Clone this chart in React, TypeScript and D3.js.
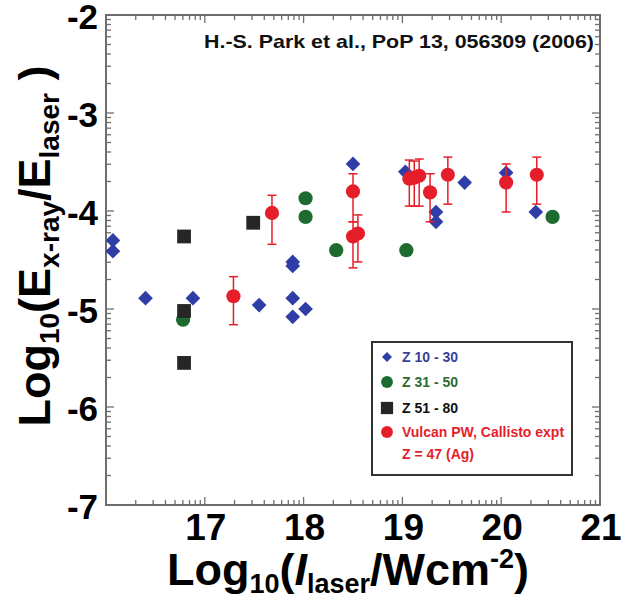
import React from "react";
import * as d3 from "d3";

// Z 10 - 30 (blue diamonds)
const lowZX = [16.07, 16.07, 16.40, 16.88, 17.55, 17.89, 17.89, 17.89, 17.89, 18.02, 18.50, 19.03, 19.34, 19.34, 19.63, 20.05, 20.35];
const lowZY = [-4.30, -4.41, -4.89, -4.89, -4.96, -4.52, -4.56, -4.89, -5.08, -5.00, -3.52, -3.60, -4.01, -4.11, -3.71, -3.61, -4.01];

// Z 31 - 50 (green circles)
const midZX = [16.78, 18.02, 18.02, 18.33, 19.04, 20.52];
const midZY = [-5.11, -3.87, -4.06, -4.40, -4.40, -4.06];

// Z 51 - 80 (black squares)
const highZX = [16.79, 16.79, 16.79, 17.49];
const highZY = [-4.26, -5.02, -5.55, -4.12];

// Vulcan PW, Callisto expt, Z = 47 (Ag), with error bars
const vulcanX = [17.29, 17.68, 18.50, 18.50, 18.55, 19.07, 19.12, 19.17, 19.28, 19.46, 20.05, 20.36];
const vulcanY = [-4.87, -4.02, -3.80, -4.26, -4.23, -3.67, -3.66, -3.64, -3.81, -3.63, -3.71, -3.63];
const vulcanHi = [-4.67, -3.84, -3.62, -4.11, -4.04, -3.48, -3.49, -3.47, -3.62, -3.45, -3.52, -3.45];
const vulcanLo = [-5.16, -4.34, -4.11, -4.58, -4.52, -3.95, -3.95, -3.95, -4.11, -3.93, -4.01, -3.93];

const xTicks = [17, 18, 19, 20, 21];
const yTicks = [-2, -3, -4, -5, -6, -7];

const BLUE = "#2f3da6";
const GREEN = "#1e6b30";
const BLACK = "#262626";
const RED = "#e61e2a";
const AXIS = "#6e6e6e";
const FONT = "'Liberation Sans', Arial, Helvetica, sans-serif";

const W = 621;
const H = 596;
const left = 106;
const right = 600;
const top = 15;
const bottom = 505;

export default function App() {
  const x = d3.scaleLinear().domain([16, 21]).range([left, right]);
  const y = d3.scaleLinear().domain([-7, -2]).range([bottom, top]);

  // log-style minor ticks: n + log10(k), k = 2..9
  const xMinor: number[] = [];
  for (let n = 16; n < 21; n++) for (let k = 2; k <= 9; k++) xMinor.push(n + Math.log10(k));
  const yMinor: number[] = [];
  for (let n = -7; n < -2; n++) for (let k = 2; k <= 9; k++) yMinor.push(n + Math.log10(k));
  const xMajor = d3.range(16, 22);
  const yMajor = d3.range(-7, -1);

  const diamond = d3.symbol().type(d3.symbolSquare).size(108)()!;
  const square = d3.symbol().type(d3.symbolSquare).size(190)()!;
  const circle = d3.symbol().type(d3.symbolCircle).size(158)()!;
  const legDiamond = d3.symbol().type(d3.symbolSquare).size(50)()!;
  const legSquare = d3.symbol().type(d3.symbolSquare).size(150)()!;
  const legCircle = d3.symbol().type(d3.symbolCircle).size(110)()!;

  const minorLen = 5;
  const majorLen = 8;
  const cap = 4.5;

  return (
    <svg width={W} height={H} style={{ position: "absolute", left: 0, top: 0, background: "#fff" }}>
      <rect x={0} y={0} width={W} height={H} fill="#fff" />

      {/* ticks on all four sides, pointing inward */}
      <g stroke={AXIS} strokeWidth={1.3}>
        {xMinor.map((v, i) => (
          <g key={"xm" + i}>
            <line x1={x(v)} x2={x(v)} y1={bottom} y2={bottom - minorLen} />
            <line x1={x(v)} x2={x(v)} y1={top} y2={top + minorLen} />
          </g>
        ))}
        {xMajor.map((v, i) => (
          <g key={"xM" + i}>
            <line x1={x(v)} x2={x(v)} y1={bottom} y2={bottom - majorLen} />
            <line x1={x(v)} x2={x(v)} y1={top} y2={top + majorLen} />
          </g>
        ))}
        {yMinor.map((v, i) => (
          <g key={"ym" + i}>
            <line x1={left} x2={left + minorLen} y1={y(v)} y2={y(v)} />
            <line x1={right} x2={right - minorLen} y1={y(v)} y2={y(v)} />
          </g>
        ))}
        {yMajor.map((v, i) => (
          <g key={"yM" + i}>
            <line x1={left} x2={left + majorLen} y1={y(v)} y2={y(v)} />
            <line x1={right} x2={right - majorLen} y1={y(v)} y2={y(v)} />
          </g>
        ))}
      </g>
      <rect x={left} y={top} width={right - left} height={bottom - top} fill="none" stroke={AXIS} strokeWidth={2} />

      {/* tick labels */}
      <g fontFamily={FONT} fontWeight="bold" fill="#000">
        {xTicks.map((t) => (
          <text key={"xt" + t} x={x(t) + 1} y={540} fontSize={37} textAnchor="middle">
            {t}
          </text>
        ))}
        {yTicks.map((t) => (
          <text key={"yt" + t} x={98} y={y(t) + 14} fontSize={35} textAnchor="end">
            {"-" + Math.abs(t)}
          </text>
        ))}
      </g>

      {/* axis titles */}
      <text x={348} y={585} fontFamily={FONT} fontWeight="bold" fontSize={45} textAnchor="middle" fill="#000">
        Log<tspan fontSize={27} dy={8}>10</tspan>
        <tspan dy={-8}>(</tspan>
        <tspan fontStyle="italic">I</tspan>
        <tspan fontSize={27} dy={8}>laser</tspan>
        <tspan dy={-8}>/Wcm</tspan>
        <tspan fontSize={27} dy={-17}>-2</tspan>
        <tspan dy={17}>)</tspan>
      </text>
      <text
        transform={`translate(50,${246}) rotate(-90)`}
        fontFamily={FONT}
        fontWeight="bold"
        fontSize={45}
        textAnchor="middle"
        fill="#000"
      >
        Log<tspan fontSize={28} dy={9}>10</tspan>
        <tspan dy={-9}>(E</tspan>
        <tspan fontSize={28} dy={9}>x-ray</tspan>
        <tspan dy={-9}>/E</tspan>
        <tspan fontSize={28} dy={9}>laser</tspan>
        <tspan dy={-9}> )</tspan>
      </text>

      {/* citation */}
      <text
        x={594}
        y={48}
        fontFamily={FONT}
        fontWeight="bold"
        fontSize={19}
        textAnchor="end"
        textLength={390}
        lengthAdjust="spacingAndGlyphs"
        fill="#111"
      >
        H.-S. Park et al., PoP 13, 056309 (2006)
      </text>

      {/* data */}
      <g fill={GREEN}>
        {midZX.map((v, i) => (
          <path key={"g" + i} d={circle} transform={`translate(${x(v)},${y(midZY[i])})`} />
        ))}
      </g>
      <g fill={BLACK}>
        {highZX.map((v, i) => (
          <path key={"k" + i} d={square} transform={`translate(${x(v)},${y(highZY[i])})`} />
        ))}
      </g>
      <g fill={BLUE}>
        {lowZX.map((v, i) => (
          <path key={"b" + i} d={diamond} transform={`translate(${x(v)},${y(lowZY[i])}) rotate(45)`} />
        ))}
      </g>
      <g stroke={RED} strokeWidth={1.5} fill="none">
        {vulcanX.map((v, i) => {
          const cx = x(v);
          return (
            <g key={"e" + i}>
              <line x1={cx} x2={cx} y1={y(vulcanHi[i])} y2={y(vulcanLo[i])} />
              <line x1={cx - cap} x2={cx + cap} y1={y(vulcanHi[i])} y2={y(vulcanHi[i])} />
              <line x1={cx - cap} x2={cx + cap} y1={y(vulcanLo[i])} y2={y(vulcanLo[i])} />
            </g>
          );
        })}
      </g>
      <g fill={RED}>
        {vulcanX.map((v, i) => (
          <path key={"r" + i} d={circle} transform={`translate(${x(v)},${y(vulcanY[i])})`} />
        ))}
      </g>

      {/* legend */}
      <g fontFamily={FONT} fontWeight="bold" fontSize={14}>
        <rect x={372} y={342} width={200} height={133} fill="#fff" stroke="#333" strokeWidth={2} />
        <path d={legDiamond} transform="translate(387,357) rotate(45)" fill={BLUE} />
        <text x={402} y={362} fill="#3a3f98">Z 10 - 30</text>
        <path d={legCircle} transform="translate(387,382)" fill={GREEN} />
        <text x={402} y={387} fill="#2e6b2e">Z 31 - 50</text>
        <path d={legSquare} transform="translate(387,408)" fill={BLACK} />
        <text x={402} y={413} fill="#111">Z 51 - 80</text>
        <path d={legCircle} transform="translate(387,432)" fill={RED} />
        <text x={402} y={437} fill={RED}>Vulcan PW, Callisto expt</text>
        <text x={402} y={459} fill={RED}>Z = 47 (Ag)</text>
      </g>
    </svg>
  );
}
